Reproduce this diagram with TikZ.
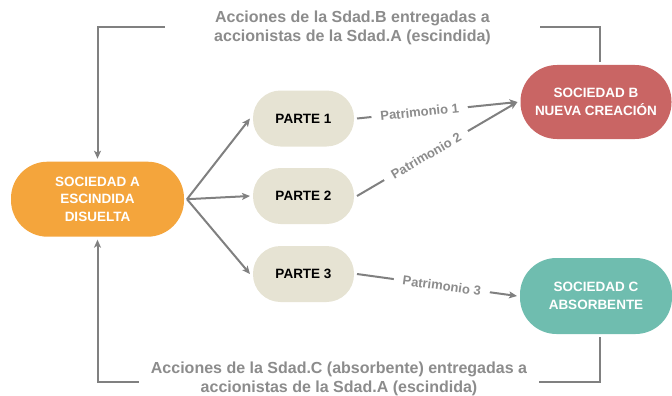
\documentclass[tikz,border=0pt]{standalone}
\usepackage{fontspec}
\setmainfont{Liberation Sans}
\usetikzlibrary{arrows.meta}
\definecolor{cA}{HTML}{F4A53C}
\definecolor{cB}{HTML}{C96564}
\definecolor{cC}{HTML}{6FBDAF}
\definecolor{cPart}{HTML}{E6E3D3}
\definecolor{cLine}{HTML}{808080}
\definecolor{cText}{HTML}{8C8C8C}
\begin{document}
\begin{tikzpicture}[x=1pt,y=-1pt,
  box/.style={rounded corners=36.5pt, inner sep=0pt, outer sep=3pt, align=center,
    font=\fontsize{13.5}{17.5}\selectfont\bfseries, text=white},
  parte/.style={box, fill=cPart, text=black, minimum width=101pt, minimum height=56pt, rounded corners=27.5pt},
  conn/.style={draw=cLine, line width=2pt},
  arr/.style={conn, -{Stealth[length=8pt,width=7pt,inset=2pt]}},
  lbl/.style={fill=white, text=cText, font=\fontsize{13}{15}\selectfont\bfseries, sloped, inner xsep=9pt, inner ysep=1pt},
  note/.style={fill=white, text=cText, font=\fontsize{16}{19}\selectfont\bfseries, align=center, inner sep=0pt}]
\useasboundingbox (0,0) rectangle (672,396);

\node[box, fill=cA, minimum width=173pt, minimum height=75pt] (A) at (97.5,199.2) {SOCIEDAD A\\ESCINDIDA\\DISUELTA};
\node[box, fill=cB, minimum width=151pt, minimum height=74pt] (B) at (596,102) {SOCIEDAD B\\NUEVA CREACIÓN};
\node[box, fill=cC, minimum width=152pt, minimum height=76pt] (C) at (596,296) {SOCIEDAD C\\ABSORBENTE};
\node[parte] (P1) at (303.5,118.5) {PARTE 1};
\node[parte] (P2) at (303.5,196) {PARTE 2};
\node[parte] (P3) at (303.5,274) {PARTE 3};

\coordinate (tR) at (600,27);
\coordinate (bR) at (600,382);

\draw[arr] (B.north -| tR) -- (tR) -| (A.north);
\draw[arr] (C.south -| bR) -- (bR) -| (A.south);
\node[note, minimum width=375pt] (tN) at (352.5,27.5) {Acciones de la Sdad.B entregadas a\\accionistas de la Sdad.A (escindida)};
\node[note, minimum width=400pt] (bN) at (339,378.5) {Acciones de la Sdad.C (absorbente) entregadas a\\accionistas de la Sdad.A (escindida)};

\draw[arr] (A.east) -- (P1.west);
\draw[arr] (A.east) -- (P2.west);
\draw[arr] (A.east) -- (P3.west);

\draw[arr] (P1.east) -- node[lbl, pos=0.39] (l1) {Patrimonio 1} (B.west);
\draw[arr] (P2.east) -- node[lbl, pos=0.43] (l2) {Patrimonio 2} (B.west);
\draw[arr] (P3.east) -- node[lbl, pos=0.53] (l3) {Patrimonio 3} (C.west);
\end{tikzpicture}
\end{document}
